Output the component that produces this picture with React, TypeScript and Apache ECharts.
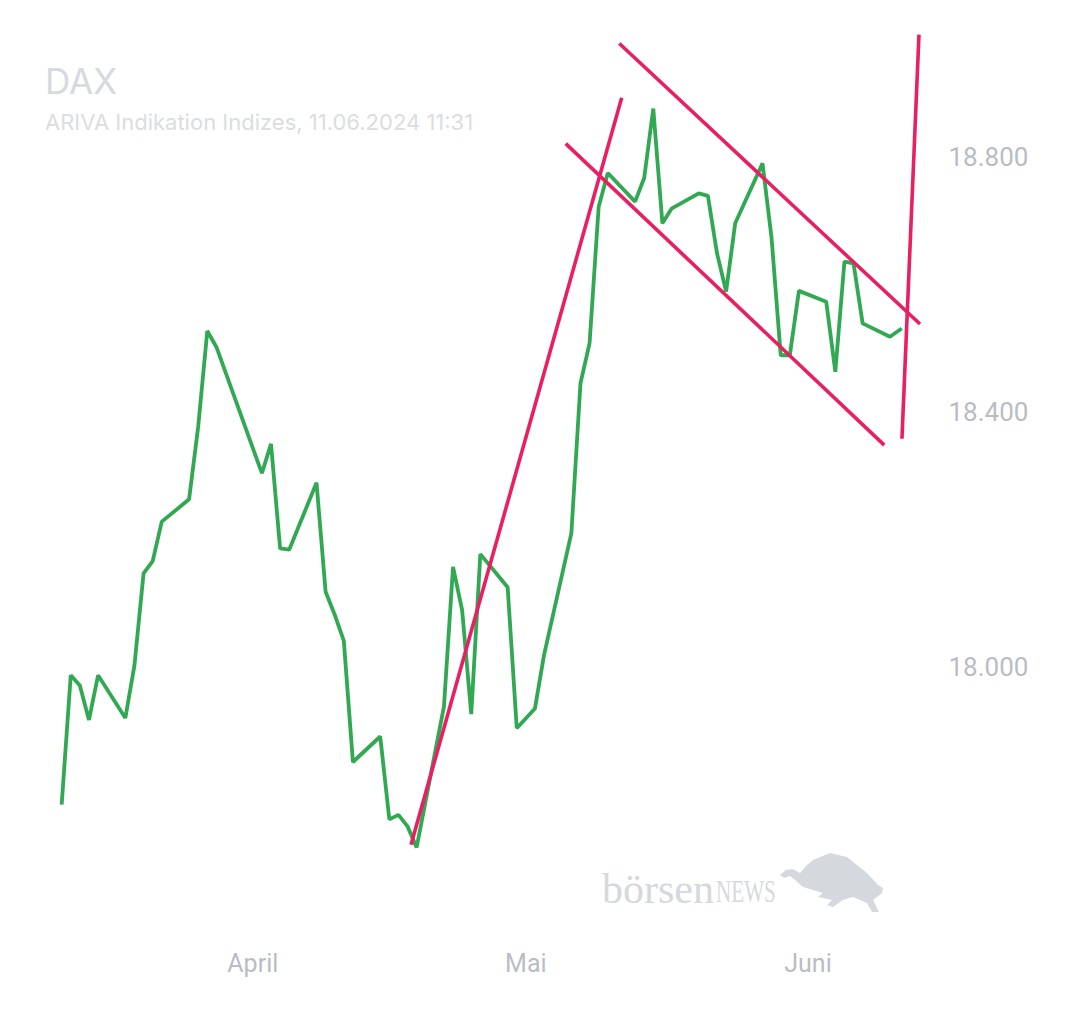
import React, { useEffect, useRef } from "react";
import * as echarts from "echarts";

const dates: string[] = [
  "2024-03-11", "2024-03-12", "2024-03-13", "2024-03-14", "2024-03-15",
  "2024-03-18", "2024-03-19", "2024-03-20", "2024-03-21", "2024-03-22",
  "2024-03-25", "2024-03-26", "2024-03-27", "2024-03-28",
  "2024-04-02", "2024-04-03", "2024-04-04", "2024-04-05",
  "2024-04-08", "2024-04-09", "2024-04-10", "2024-04-11", "2024-04-12",
  "2024-04-15", "2024-04-16", "2024-04-17", "2024-04-18", "2024-04-19",
  "2024-04-22", "2024-04-23", "2024-04-24", "2024-04-25", "2024-04-26",
  "2024-04-29", "2024-04-30",
  "2024-05-02", "2024-05-03",
  "2024-05-06", "2024-05-07", "2024-05-08", "2024-05-09", "2024-05-10",
  "2024-05-13", "2024-05-14", "2024-05-15", "2024-05-16", "2024-05-17",
  "2024-05-20", "2024-05-21", "2024-05-22", "2024-05-23", "2024-05-24",
  "2024-05-27", "2024-05-28", "2024-05-29", "2024-05-30", "2024-05-31",
  "2024-06-03", "2024-06-04", "2024-06-05", "2024-06-06", "2024-06-07",
  "2024-06-10", "2024-06-11T07:00",
];

const daxValues: number[] = [
  17784, 17987, 17971, 17917, 17987,
  17920, 18003, 18147, 18166, 18228,
  18263, 18377, 18527, 18502,
  18304, 18350, 18186, 18184,
  18289, 18118, 18082, 18041, 17851,
  17891, 17761, 17768, 17750, 17717,
  17938, 18157, 18089, 17926, 18177,
  18125, 17904,
  17935, 18019,
  18210, 18445, 18508, 18722, 18775,
  18730, 18767, 18876, 18696, 18719,
  18743, 18739, 18649, 18589, 18696,
  18790, 18672, 18489, 18489, 18590,
  18573, 18463, 18636, 18633, 18539,
  18518, 18531,
];

// Trend lines drawn on the chart: [date/time, value]
const trendUp: [string, number][] = [["2024-04-18T09:07", 17721], ["2024-05-11T12:43", 18893]];
const channelLow: [string, number][] = [["2024-05-05T09:07", 18821], ["2024-06-09T09:07", 18348]];
const channelHigh: [string, number][] = [["2024-05-11T06:28", 18978], ["2024-06-13T07:12", 18538]];
const breakoutLine: [string, number][] = [["2024-06-13T04:33", 18992], ["2024-06-11T07:41", 18358]];

const monthNames: string[] = [
  "Januar", "Februar", "März", "April", "Mai", "Juni",
  "Juli", "August", "September", "Oktober", "November", "Dezember",
];
const yTickValues: number[] = [18000, 18400, 18800];

const titleText = "DAX";
const subtitleText = "ARIVA Indikation Indizes, 11.06.2024 11:31";

const xMinDate = "2024-03-07";
const xMaxDate = "2024-06-15";
const yMin = 17600;
const yMax = 19000;
const yInterval = 400;

function t(s: string): number {
  const [d, tm = "00:00"] = s.split("T");
  const [y, m, dd] = d.split("-").map(Number);
  const [h, mi] = tm.split(":").map(Number);
  return new Date(y, m - 1, dd, h, mi).getTime();
}

function fmtThousands(v: number): string {
  return String(v).replace(/\B(?=(\d{3})+(?!\d))/g, ".");
}

const GREEN = "#31a952";
const PINK = "#e91e63";
const LABEL = "#b9bdc3";
const WATERMARK = "#d5d9dd";

export default function App() {
  const ref = useRef<HTMLDivElement>(null);

  useEffect(() => {
    if (!ref.current) return;
    const chart = echarts.init(ref.current, undefined, { renderer: "svg" });

    const trend = (pts: [string, number][]) => ({
      type: "line",
      data: pts.map(([d, v]) => [t(d), v]),
      showSymbol: false,
      symbol: "none",
      lineStyle: { color: PINK, width: 3.6 },
      z: 5,
      silent: true,
    });

    const bull: number[][] = [
      [780, 875], [786, 870], [793, 869], [800, 873], [806, 866], [813, 860],
      [830, 853], [847, 857], [867, 873],
      [878, 885], [883, 888], [882, 893], [873, 900], [877, 908], [879, 912], [872, 912],
      [867, 903], [853, 897], [843, 900], [833, 907], [827, 905], [832, 900],
      [823, 898], [818, 897], [823, 893], [813, 890], [803, 887], [795, 880],
      [790, 876], [784, 878],
    ];

    chart.setOption({
      animation: false,
      backgroundColor: "#ffffff",
      title: {
        text: titleText,
        subtext: subtitleText,
        left: 45,
        top: 63,
        padding: 0,
        itemGap: 13,
        textStyle: { color: "#d6d9dd", fontSize: 35, fontWeight: "normal", fontFamily: "Inter" },
        subtextStyle: { color: "#dadde1", fontSize: 22, fontFamily: "Inter" },
      },
      grid: { left: 25.25, right: 144.55, top: 29.5, bottom: 91 },
      xAxis: {
        type: "time",
        min: t(xMinDate),
        max: t(xMaxDate),
        minInterval: 28 * 24 * 3600 * 1000,
        axisLine: { show: false },
        axisTick: { show: false },
        splitLine: { show: false },
        axisLabel: {
          color: LABEL,
          fontSize: 25,
          fontFamily: "Roboto",
          margin: 29,
          showMinLabel: false,
          showMaxLabel: false,
          formatter: (v: number) => {
            const d = new Date(v);
            return d.getDate() === 1 && d.getHours() === 0 ? monthNames[d.getMonth()] : "";
          },
        },
      },
      yAxis: {
        type: "value",
        position: "right",
        min: yMin,
        max: yMax,
        interval: yInterval,
        axisLine: { show: false },
        axisTick: { show: false },
        splitLine: { show: false },
        axisLabel: {
          color: LABEL,
          fontSize: 26,
          fontFamily: "Roboto",
          margin: 13,
          formatter: (v: number) => (yTickValues.includes(v) ? fmtThousands(v) : ""),
        },
      },
      graphic: [
        {
          type: "text",
          x: 602,
          y: 868,
          silent: true,
          style: { text: "börsen", fontSize: 42, fontFamily: "Liberation Serif", fill: WATERMARK },
        },
        {
          type: "text",
          x: 716,
          y: 875,
          scaleX: 0.66,
          silent: true,
          style: { text: "NEWS", fontSize: 32, fontFamily: "Liberation Serif", fill: WATERMARK },
        },
        {
          type: "polygon",
          silent: true,
          shape: { points: bull },
          style: { fill: WATERMARK },
        },
      ],
      series: [
        {
          type: "line",
          name: "DAX",
          data: dates.map((d, i) => [t(d), daxValues[i]]),
          showSymbol: false,
          symbol: "none",
          lineStyle: { color: GREEN, width: 3.8 },
          z: 3,
        },
        trend(trendUp),
        trend(channelLow),
        trend(channelHigh),
        trend(breakoutLine),
      ],
    });

    return () => chart.dispose();
  }, []);

  return (
    <div
      ref={ref}
      style={{ position: "fixed", left: 0, top: 0, width: 1080, height: 1013, background: "#fff" }}
    />
  );
}
